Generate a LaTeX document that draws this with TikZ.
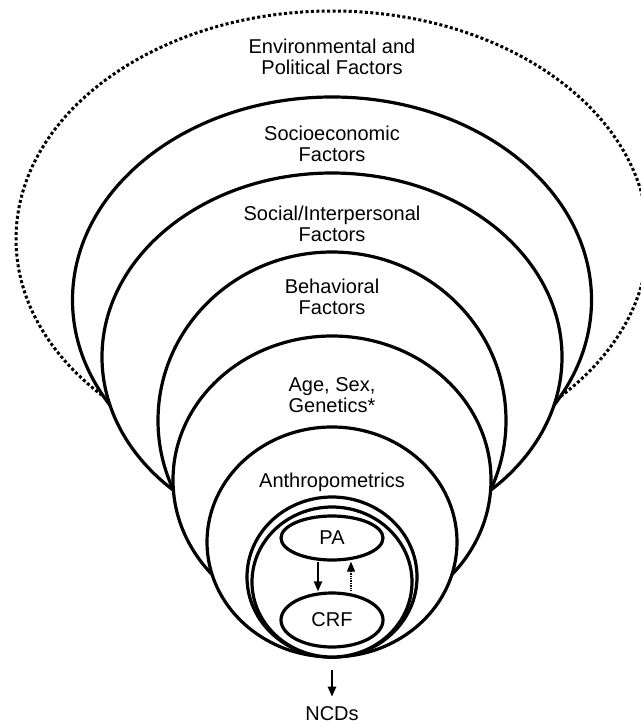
\documentclass[tikz,border=0pt]{standalone}
\usepackage{fontspec}
\setmainfont{Liberation Sans}
\usetikzlibrary{arrows.meta, shapes}
\def\midx{332}
\def\ringlinewidth{3.2pt}
\def\dotlinewidth{3pt}
\def\linklinewidth{2pt}
\def\corewidth{102pt}
\tikzset{
	% text in the rings
	ringtext/.style={
		font=\fontsize{20}{21}\selectfont,
		align=center,
		inner sep=0pt,
	},
	% nested rings
	ring/.style={
		draw=black,
		line width=\ringlinewidth,
		fill=white,
	},
	outerring/.style={
		draw=black,
		line width=\dotlinewidth,
		dash pattern=on 3pt off 2.4pt,
	},
	% PA and CRF
	core/.style={
		ringtext,
		shape=ellipse,
		draw=black,
		line width=\ringlinewidth,
		fill=white,
		minimum width=\corewidth,
	},
	% connections
	connection/.style={
		line width=\linklinewidth,
		-{Triangle[length=10pt, width=8pt]},
	},
	backconnection/.style={
		line width=1.4pt,
		dash pattern=on 1.4pt off 1pt,
		-{Triangle[length=10pt, width=8pt]},
	},
}
\begin{document}
\begin{tikzpicture}[x=1pt, y=-1pt]
	\useasboundingbox (0,0) rectangle (640,727);

	% Outer dotted ring
	\draw[outerring] (\midx,239) ellipse [x radius=316pt, y radius=228pt];

	% Rings, from outside in
	\foreach \cy/\rx/\ry in {300/259.5/203, 357/230/184, 420.5/174/168.5,
		480/159/144, 542/125/115, 577/85/80, 582/80/75} {
		\draw[ring] (\midx,\cy) ellipse [x radius=\rx pt, y radius=\ry pt];
	}
	\coordinate (ringbase) at (\midx,657);

	% Labels
	\node[ringtext] (envtext) at (\midx,57) {Environmental and\\Political Factors};
	\node[ringtext] (sociotext) at (\midx,143.5) {Socioeconomic\\Factors};
	\node[ringtext] (socialtext) at (\midx,223.5) {Social/Interpersonal\\Factors};
	\node[ringtext] (behavtext) at (\midx,297) {Behavioral\\Factors};
	\node[ringtext] (agetext) at (\midx,395) {Age, Sex,\\Genetics*};
	\node[ringtext] (anthrotext) at (\midx,482) {Anthropometrics};

	% PA and CRF
	\node[
		core,
		minimum height=44pt,
	] (pa) at (\midx,538) {PA};
	%
	\node[
		core,
		minimum height=54pt,
	] (crf) at (\midx,620) {CRF};
	%
	\node[ringtext] (ncds) at (\midx,714) {NCDs};

	% Connections
	\draw[
		connection
	] ([xshift=-14pt]pa.south) -- ([xshift=-14pt]crf.north);
	\draw[
		backconnection
	] ([xshift=19pt]crf.north) -- ([xshift=19pt]pa.south);
	\draw[
		connection,
		line width=2.4pt,
		shorten <=13pt, shorten >=10pt,
	] (ringbase) -- (ncds);
\end{tikzpicture}
\end{document}
